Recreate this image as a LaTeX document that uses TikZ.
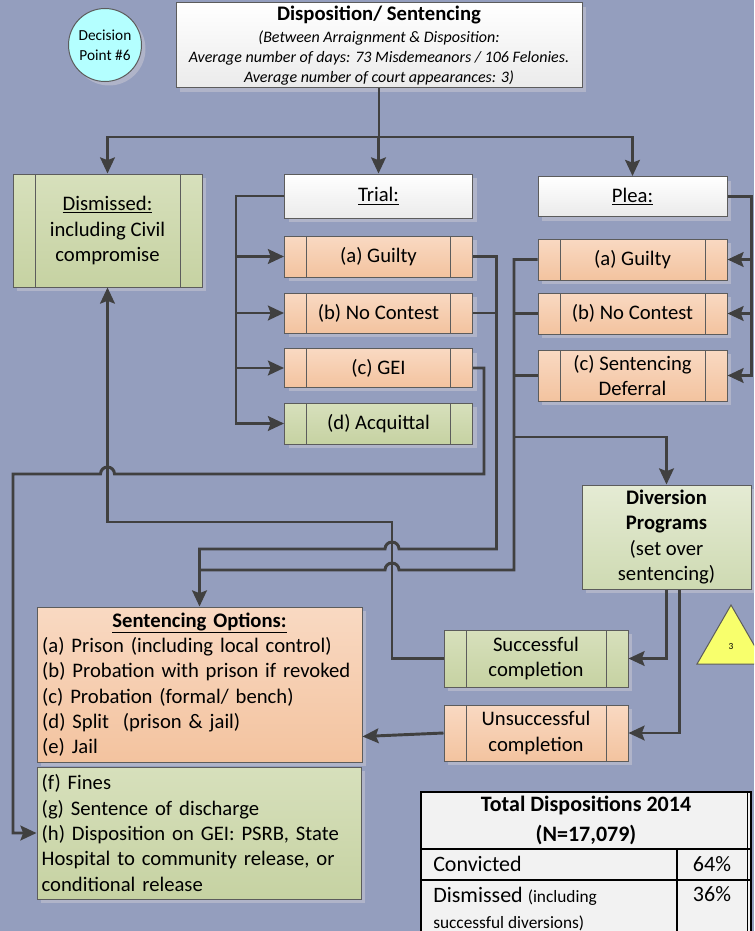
\documentclass[tikz,border=0pt]{standalone}
\usepackage{fontspec}
\setmainfont{Carlito}
\usetikzlibrary{arrows.meta,shapes.geometric,shadows,calc}
\definecolor{bgblue}{RGB}{148,158,190}
\definecolor{shadowgray}{RGB}{176,180,201}
\definecolor{linegray}{RGB}{64,64,64}
\definecolor{edgegray}{RGB}{92,92,92}
\definecolor{orangetop}{RGB}{249,217,194}
\definecolor{orangebot}{RGB}{243,195,159}
\definecolor{greentop}{RGB}{215,224,188}
\definecolor{greenbot}{RGB}{198,210,162}
\definecolor{divtop}{RGB}{229,235,212}
\definecolor{divbot}{RGB}{206,218,178}
\definecolor{cyanfill}{RGB}{180,255,255}
\definecolor{notefill}{RGB}{248,255,108}
\definecolor{tablegray}{RGB}{242,242,242}

\begin{document}
\begin{tikzpicture}[x=0.75pt, y=-0.75pt, >={Stealth[length=12pt, width=11pt, inset=2pt]},
        box/.style={draw=edgegray, line width=0.75pt, align=center, inner sep=0pt,
            font=\fontsize{15.5}{19}\selectfont,
            drop shadow={shadow xshift=3pt, shadow yshift=-3pt, fill=shadowgray, opacity=1}},
        whitebox/.style={box, top color=white, bottom color=black!8},
        orangebox/.style={box, top color=orangetop, bottom color=orangebot},
        greenbox/.style={box, top color=greentop, bottom color=greenbot},
        sidebars/.style={path picture={
            \draw[edgegray, line width=0.6pt] ([xshift=16.5pt]path picture bounding box.north west) -- ([xshift=16.5pt]path picture bounding box.south west);
            \draw[edgegray, line width=0.6pt] ([xshift=-16.5pt]path picture bounding box.north east) -- ([xshift=-16.5pt]path picture bounding box.south east);}},
        conn/.style={draw=linegray, line width=2.2pt},
        arr/.style={conn, ->}]
        % Page and background
        \useasboundingbox (0,0) rectangle (754,931);
        \clip (0,0) rectangle (754,931);
        \fill[bgblue] (0,0) rectangle (754,931);

        % Header
        \node[circle, draw=edgegray, line width=0.75pt, fill=cyanfill, minimum size=54.75pt, inner sep=0pt,
            align=center, font=\fontsize{11.5}{15}\selectfont,
            drop shadow={shadow xshift=3pt, shadow yshift=-3pt, fill=shadowgray, opacity=1}] (dp) at (105,45) {Decision\\Point \#6};
        \node[whitebox, minimum width=304.5pt, minimum height=63.75pt, font=\fontsize{12}{15}\selectfont\itshape] (disp) at (379,45.5)
            {{\fontsize{15.5}{19}\selectfont\bfseries\upshape Disposition/ Sentencing}\\[1.5pt]
             (Between Arraignment \& Disposition:\\
             Average number of days: 73 Misdemeanors / 106 Felonies.\\
             Average number of court appearances: 3)};

        % Dismissed
        \node[greenbox, sidebars, minimum width=141.75pt, minimum height=84.75pt] (dism) at (107.5,230.5)
            {\underline{Dismissed:}\\including Civil\\compromise};

        % Trial column
        \node[whitebox, minimum width=141pt, minimum height=33pt] (trial) at (378.5,196) {\underline{Trial:}};
        \node[orangebox, sidebars, minimum width=141pt, minimum height=30.75pt] (tguilty) at (378.5,256.5) {(a) Guilty};
        \node[orangebox, sidebars, minimum width=141pt, minimum height=30pt] (tnocont) at (378.5,313) {(b) No Contest};
        \node[orangebox, sidebars, minimum width=141pt, minimum height=29pt] (tgei) at (378.5,368) {(c) GEI};
        \node[greenbox, sidebars, minimum width=141pt, minimum height=30.75pt] (tacq) at (378.5,423.5) {(d) Acquittal};

        % Plea column
        \node[whitebox, minimum width=141.75pt, minimum height=30pt] (plea) at (632.5,196.5) {\underline{Plea:}};
        \node[orangebox, sidebars, minimum width=141.75pt, minimum height=30.75pt] (pguilty) at (632.5,259.5) {(a) Guilty};
        \node[orangebox, sidebars, minimum width=141.75pt, minimum height=30.75pt] (pnocont) at (632.5,313.5) {(b) No Contest};
        \node[orangebox, sidebars, minimum width=141.75pt, minimum height=38.25pt] (pdefer) at (632.5,375.5) {(c) Sentencing\\Deferral};

        % Diversion and its outcomes
        \node[box, top color=divtop, bottom color=divbot, minimum width=126.75pt, minimum height=78pt] (div) at (666.5,537)
            {\textbf{Diversion}\\\textbf{Programs}\\(set over\\sentencing)};
        \node[greenbox, sidebars, minimum width=138pt, minimum height=42.75pt] (succ) at (536,658.5) {Successful\\completion};
        \node[orangebox, sidebars, minimum width=138pt, minimum height=42pt] (unsucc) at (536,733) {Unsuccessful\\completion};

        % Sentencing options
        \node[orangebox, minimum width=243.75pt, minimum height=116.25pt, text width=236pt, align=left] (sent) at (199.5,684.5)
            {\makebox[\linewidth]{\textbf{\underline{Sentencing Options:}}}\\
             (a) Prison (including local control)\\
             (b) Probation with prison if revoked\\
             (c) Probation (formal/ bench)\\
             (d) Split~ (prison \& jail)\\
             (e) Jail};
        \node[greenbox, minimum width=243pt, minimum height=99pt, text width=236pt, align=left] (fines) at (199,833)
            {(f) Fines\\
             (g) Sentence of discharge\\
             (h) Disposition on GEI: PSRB, State\\
             Hospital to community release, or\\
             conditional release};

        % Split from the header
        \coordinate (split) at (379,137);
        \draw[arr] (disp.south) -- (split) -| (dism.north);
        \draw[arr] (split) -| (plea.north);
        \draw[arr] (trial.north |- split) -- (trial.north);

        % Trial outcomes
        \draw[arr] (trial.west) -- ++(-48,0) coordinate (tbus) |- (tacq.west);
        \foreach \n in {tguilty,tnocont,tgei}
            \draw[arr] (tbus |- \n.west) -- (\n.west);

        % Plea outcomes
        \draw[arr] (plea.east) -- ++(24,0) coordinate (pbus) |- (pdefer.east);
        \foreach \n in {pguilty,pnocont}
            \draw[arr] (pbus |- \n.east) -- (\n.east);

        % Convictions to sentencing
        \draw[arr] (tguilty.east) -- (496.5,256.5) -- (496.5,549) -- (399,549)
            arc[start angle=0, end angle=180, radius=5.25pt] -| (sent.north);
        \draw[conn] (tnocont.east) -- (496.5,313);
        \draw[conn] (pguilty.west) -- (514,259.5) -- (514,570) -- (399,570)
            arc[start angle=0, end angle=180, radius=5.25pt] -- (199.5,570);
        \draw[conn] (pnocont.west) -- (514,313.5);
        \draw[conn] (pdefer.west) -- (514,375.5);
        \draw[arr] (514,437) -| (div.north);

        % GEI to disposition on GEI
        \draw[arr] (tgei.east) -- (484,368) -- (484,474) -- (114.5,474)
            arc[start angle=0, end angle=180, radius=5.25pt] -- (13,474) |- (fines.west);

        % Diversion results
        \draw[arr] (div.south) |- (succ.east);
        \draw[arr] ([xshift=9.75pt]div.south) |- (unsucc.east);
        \draw[arr] (succ.west) -- (392,658.5) -- (392,522) -| (dism.south);
        \draw[arr] (unsucc.west) -- ([yshift=19.5pt]sent.south east);

        % Note marker
        \draw[edgegray, line width=0.75pt, fill=notefill] (697,664) -- (731,605) -- (765,664) -- cycle;
        \node[font=\fontsize{7}{8}\selectfont, inner sep=0pt] (three) at (731,646) {3};

        % Totals table
        \draw[line width=1.5pt, fill=tablegray] (421,792) rectangle (751,945);
        \draw[line width=1.5pt] (421,849) -- (751,849);
        \draw[line width=1.5pt] (421,880) -- (751,880);
        \draw[line width=1.5pt] (677,849) -- (677,945);
        \draw[line width=1pt] (747.5,792) -- (747.5,945);
        \node[font=\fontsize{16.5}{22.5}\selectfont\bfseries, align=center] (tabtitle) at (586,820) {Total Dispositions 2014\\(N=17,079)};
        \node[font=\fontsize{16.5}{20}\selectfont, anchor=base west, inner sep=0pt] (conv) at (433,871) {Convicted};
        \node[font=\fontsize{16.5}{20}\selectfont, anchor=base, inner sep=0pt] (convpct) at (712,871) {64\%};
        \node[font=\fontsize{16.5}{20}\selectfont, anchor=base west, inner sep=0pt] (dismrow) at (433,902) {Dismissed {\fontsize{13}{16}\selectfont (including}};
        \node[font=\fontsize{13}{16}\selectfont, anchor=base west, inner sep=0pt] (dismnote) at (433,928) {successful diversions)};
        \node[font=\fontsize{16.5}{20}\selectfont, anchor=base, inner sep=0pt] (dismpct) at (712,901) {36\%};
    \end{tikzpicture}
\end{document}
